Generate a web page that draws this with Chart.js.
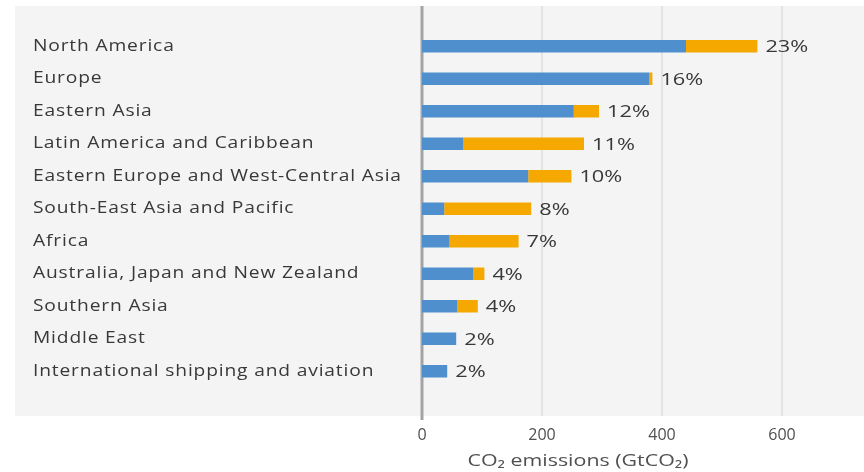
<!DOCTYPE html>
<html lang="en">
<head>
    <meta charset="UTF-8">
    <title>CO2 emissions by region</title>
    <script src="https://cdn.jsdelivr.net/npm/chart.js"></script>
    <style>
        body { margin: 0; background: #fff; }
        #wrap { width: 864px; height: 472px; }
    </style>
</head>
<body>
    <div id="wrap"><canvas id="co2Chart" width="864" height="472"></canvas></div>

    <script>
        // Regions, top to bottom
        const regions = [
            'North America',
            'Europe',
            'Eastern Asia',
            'Latin America and Caribbean',
            'Eastern Europe and West-Central Asia',
            'South-East Asia and Pacific',
            'Africa',
            'Australia, Japan and New Zealand',
            'Southern Asia',
            'Middle East',
            'International shipping and aviation'
        ];
        // GtCO2
        const blueValues   = [440, 379, 253, 69, 177, 37, 46, 85, 59, 57, 42];
        const orangeValues = [119, 5, 42, 201, 72, 145, 115, 19, 34, 0, 0];
        const shareLabels  = ['23%', '16%', '12%', '11%', '10%', '8%', '7%', '4%', '4%', '2%', '2%'];
        const xTicks = [0, 200, 400, 600];

        const textColor = '#383838';

        // the source figure has wide lettering, so stretch text horizontally
        function wideText(ctx, text, x, y, sx, align) {
            ctx.save();
            ctx.translate(x, y);
            ctx.scale(sx, 1);
            ctx.textAlign = align;
            ctx.fillText(text, 0, 0);
            ctx.restore();
        }

        // grey panel, grid lines, zero line, region names and shares
        const panelPlugin = {
            id: 'panel',
            beforeDatasetsDraw(chart) {
                const ctx = chart.ctx;
                const x = chart.scales.x;
                const top = 6, bottom = 416;
                ctx.save();
                ctx.fillStyle = '#f4f4f4';
                ctx.fillRect(15, top, chart.width - 15, bottom - top);
                ctx.strokeStyle = '#dedede';
                ctx.lineWidth = 1.5;
                xTicks.slice(1).forEach(v => {
                    const px = x.getPixelForValue(v);
                    ctx.beginPath();
                    ctx.moveTo(px, top);
                    ctx.lineTo(px, bottom);
                    ctx.stroke();
                });
                ctx.strokeStyle = '#a3a3a3';
                ctx.lineWidth = 3;
                const zx = x.getPixelForValue(0);
                ctx.beginPath();
                ctx.moveTo(zx, top);
                ctx.lineTo(zx, bottom + 4);
                ctx.stroke();

                // region names
                const y = chart.scales.y;
                ctx.font = '16px "Open Sans"';
                ctx.letterSpacing = '0.7px';
                ctx.fillStyle = textColor;
                ctx.textBaseline = 'middle';
                regions.forEach((r, i) => {
                    wideText(ctx, r, 33, y.getPixelForValue(i), 1.2, 'left');
                });
                ctx.restore();
            },
            afterDatasetsDraw(chart) {
                const ctx = chart.ctx;
                const meta0 = chart.getDatasetMeta(0);
                const meta1 = chart.getDatasetMeta(1);
                ctx.save();
                ctx.font = '17px "Open Sans"';
                ctx.fillStyle = textColor;
                ctx.textBaseline = 'middle';
                shareLabels.forEach((t, i) => {
                    const end = Math.max(meta0.data[i].x, meta1.data[i].x);
                    wideText(ctx, t, end + 8, meta0.data[i].y + 1, 1.28, 'left');
                });
                // axis title
                ctx.font = '15.5px "Open Sans"';
                ctx.fillStyle = '#505050';
                wideText(ctx, 'CO\u2082 emissions (GtCO\u2082)', 578, 462, 1.38, 'center');
                ctx.restore();
            }
        };

        new Chart(document.getElementById('co2Chart'), {
            type: 'bar',
            data: {
                labels: regions,
                datasets: [
                    { data: blueValues, backgroundColor: '#4f8fcd', barPercentage: 0.39, categoryPercentage: 1 },
                    { data: orangeValues, backgroundColor: '#f5a800', barPercentage: 0.39, categoryPercentage: 1 }
                ]
            },
            options: {
                indexAxis: 'y',
                responsive: false,
                animation: false,
                layout: { padding: { left: 33, top: 30, right: 22, bottom: 0 } },
                plugins: { legend: { display: false }, tooltip: { enabled: false } },
                scales: {
                    x: {
                        stacked: true,
                        min: 0,
                        max: 700,
                        afterBuildTicks: s => { s.ticks = xTicks.map(v => ({ value: v })); },
                        afterFit: s => { s.height = 84.5; },
                        grid: { display: false },
                        border: { display: false },
                        ticks: { color: '#505050', padding: 30, font: { family: 'Open Sans', size: 16 } }
                    },
                    y: {
                        stacked: true,
                        afterFit: s => { s.width = 389; },
                        grid: { display: false },
                        border: { display: false },
                        ticks: { display: false }
                    }
                }
            },
            plugins: [panelPlugin]
        });
    </script>
</body>
</html>
